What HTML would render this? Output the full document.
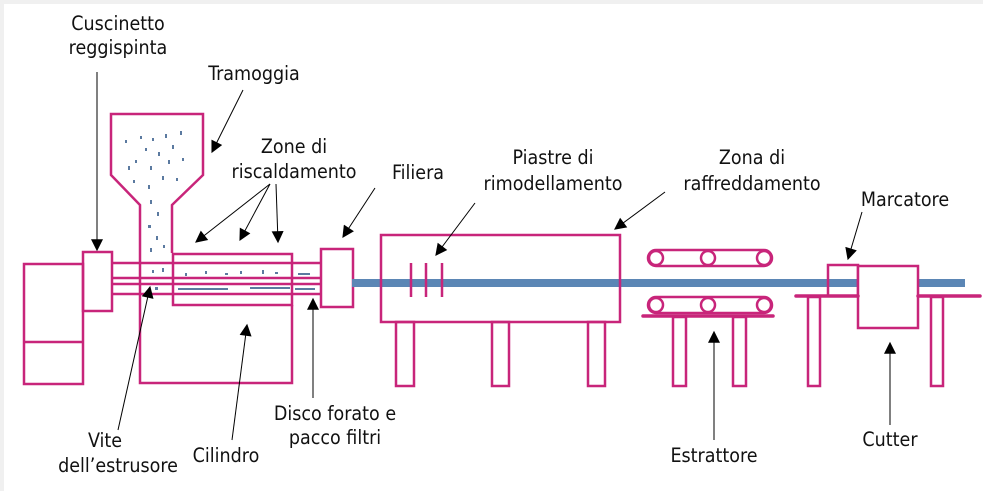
<!DOCTYPE html>
<html><head><meta charset="utf-8"><style>
html,body{margin:0;padding:0;background:#fff}
svg{display:block}
text{font-family:"DejaVu Sans Condensed","DejaVu Sans","Liberation Sans",sans-serif;font-size:19.5px;fill:#111;text-anchor:middle}
</style></head><body>
<svg width="983" height="491" viewBox="0 0 983 491" xmlns="http://www.w3.org/2000/svg">
<defs><marker id="a" viewBox="0 0 10 10" refX="9" refY="5" markerWidth="14" markerHeight="12" orient="auto" markerUnits="userSpaceOnUse"><path d="M0,0 L10,5 L0,10 z" fill="#000"/></marker></defs>
<rect x="0" y="0" width="983" height="491" fill="#fff"/>
<rect x="0" y="0" width="983" height="4" fill="#f0f0f0"/>
<rect x="0" y="0" width="4" height="491" fill="#f0f0f0"/>
<g fill="none" stroke="#c8257a" stroke-width="2.5">
<rect x="24" y="264" width="59" height="120"/><line x1="24" y1="342" x2="83" y2="342"/>
<rect x="83" y="252" width="29" height="59"/>
<path d="M140,253 V205 L111,175 V114 H203 V175 L172,205 V253"/>
<path d="M140,253 V383 H292 V305"/>
<rect x="173" y="254" width="119" height="51"/>
<line x1="112" y1="263" x2="321" y2="263"/><line x1="112" y1="278" x2="321" y2="278"/>
<line x1="112" y1="284" x2="321" y2="284"/><line x1="112" y1="294" x2="321" y2="294"/>
<rect x="321" y="249" width="32" height="58"/>
</g>
<rect x="352" y="279" width="613" height="8" fill="#5b86b5"/>
<g fill="none" stroke="#c8257a" stroke-width="2.5">
<rect x="381" y="235" width="239" height="87" fill="none"/>
<rect x="396" y="322" width="18" height="64"/><rect x="492" y="322" width="17" height="64"/><rect x="588" y="322" width="17" height="64"/>
<line x1="411" y1="263" x2="411" y2="297"/><line x1="426" y1="263" x2="426" y2="297"/><line x1="442" y1="263" x2="442" y2="297"/>
<rect x="648" y="250" width="124" height="16" rx="8"/>
<circle cx="656" cy="258" r="7"/><circle cx="708" cy="258" r="7"/><circle cx="764" cy="258" r="7"/>
<rect x="648" y="297" width="124" height="16" rx="8"/>
<circle cx="656" cy="305" r="7"/><circle cx="708" cy="305" r="7"/><circle cx="764" cy="305" r="7"/>
<line x1="643" y1="316" x2="773" y2="316" stroke-width="3.5" stroke-linecap="round"/>
<rect x="673" y="317" width="13" height="69"/><rect x="733" y="317" width="13" height="69"/>
<rect x="828" y="265" width="30" height="31"/>
<rect x="858" y="266" width="60" height="62" fill="#fff"/>
<line x1="796" y1="296" x2="858" y2="296" stroke-width="3.5" stroke-linecap="round"/>
<line x1="918" y1="296" x2="980" y2="296" stroke-width="3.5" stroke-linecap="round"/>
<rect x="808" y="297" width="12" height="89"/><rect x="931" y="297" width="12" height="89"/>
</g>
<g fill="#5b7aa0">
<rect x="125" y="140" width="2" height="3"/><rect x="140" y="136" width="2" height="3"/><rect x="152" y="138" width="2" height="3"/><rect x="165" y="134" width="2" height="4"/><rect x="180" y="131" width="2" height="4"/><rect x="172" y="145" width="2" height="4"/><rect x="158" y="152" width="2" height="4"/><rect x="145" y="148" width="2" height="3"/><rect x="128" y="166" width="2" height="4"/><rect x="135" y="160" width="2" height="3"/><rect x="150" y="166" width="2" height="4"/><rect x="168" y="160" width="2" height="4"/><rect x="182" y="158" width="2" height="3"/><rect x="162" y="176" width="2" height="4"/><rect x="176" y="178" width="2" height="3"/><rect x="148" y="185" width="2" height="4"/><rect x="133" y="180" width="2" height="3"/><rect x="150" y="200" width="2" height="4"/><rect x="157" y="212" width="2" height="4"/><rect x="148" y="225" width="3" height="3"/><rect x="156" y="236" width="2" height="4"/><rect x="163" y="245" width="2" height="3"/><rect x="150" y="248" width="2" height="4"/>
<rect x="152" y="270" width="2" height="3"/><rect x="162" y="268" width="2" height="4"/><rect x="185" y="273" width="2" height="3"/><rect x="205" y="271" width="2" height="3"/><rect x="225" y="273" width="3" height="2"/><rect x="240" y="271" width="2" height="3"/><rect x="262" y="270" width="2" height="4"/><rect x="275" y="272" width="3" height="2"/><rect x="298" y="273" width="12" height="2"/>
<rect x="178" y="288" width="50" height="2"/><rect x="250" y="287" width="40" height="2"/><rect x="295" y="288" width="20" height="2"/><rect x="155" y="287" width="3" height="3"/>
</g>
<g stroke="#000" stroke-width="1" fill="none" marker-end="url(#a)">
<line x1="97" y1="72" x2="97" y2="250"/>
<line x1="243" y1="90" x2="212" y2="152"/>
<line x1="270" y1="184" x2="196" y2="242"/><line x1="270" y1="184" x2="240" y2="240"/><line x1="276" y1="184" x2="278" y2="242"/>
<line x1="375" y1="188" x2="343" y2="237"/>
<line x1="475" y1="203" x2="436" y2="255"/>
<line x1="665" y1="192" x2="615" y2="229"/>
<line x1="862" y1="212" x2="848" y2="259"/>
<line x1="118" y1="430" x2="150" y2="287"/>
<line x1="232" y1="440" x2="247" y2="325"/>
<line x1="313" y1="398" x2="313" y2="299"/>
<line x1="714" y1="440" x2="714" y2="332"/>
<line x1="890" y1="425" x2="890" y2="343"/>
</g>
<text x="118" y="30">Cuscinetto</text><text x="118" y="54">reggispinta</text>
<text x="254" y="80">Tramoggia</text>
<text x="294" y="153">Zone di</text><text x="294" y="178">riscaldamento</text>
<text x="418" y="179">Filiera</text>
<text x="553" y="164">Piastre di</text><text x="553" y="190">rimodellamento</text>
<text x="752" y="164">Zona di</text><text x="752" y="190">raffreddamento</text>
<text x="905" y="206">Marcatore</text>
<text x="105" y="447">Vite</text><text x="118" y="472">dell’estrusore</text>
<text x="226" y="462">Cilindro</text>
<text x="335" y="420">Disco forato e</text><text x="335" y="444">pacco filtri</text>
<text x="714" y="462">Estrattore</text>
<text x="890" y="446">Cutter</text>
</svg>
</body></html>
